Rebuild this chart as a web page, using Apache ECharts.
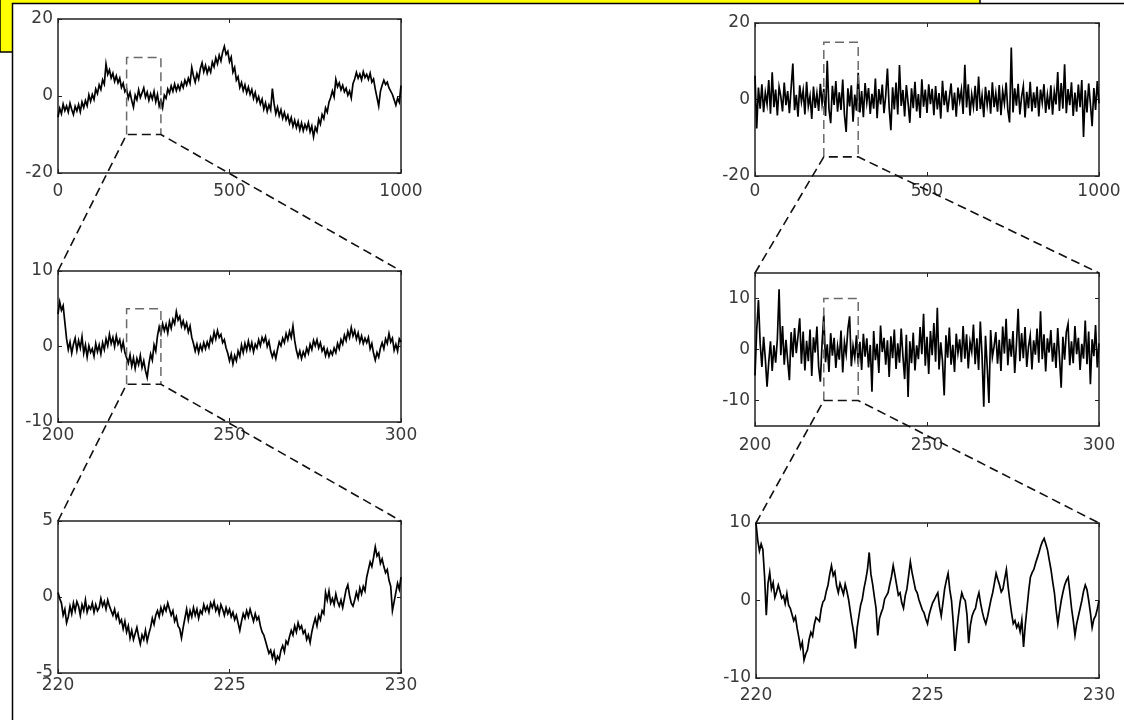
<!DOCTYPE html>
<html><head><meta charset="utf-8">
<script src="https://cdn.jsdelivr.net/npm/echarts@6/dist/echarts.min.js"></script>
<style>html,body{margin:0;padding:0;background:#fff}#c{width:1124px;height:720px}</style>
</head><body><div id="c"></div>
<script>
// ---- data ----
const topLeftValues = [
-5.5,-3.2,-4.6,-2.1,-3.8,-2.6,-4.2,-1.9,-3.5,-4.8,-2.7,-3.9,-2.2,-4.1,-1.6,-3.0,-1.2,-2.5,0.3,-1.4,
0.4,-0.9,1.8,0.6,2.9,1.7,4.2,3.1,8.3,5.6,6.8,4.7,5.9,3.8,5.2,3.4,4.6,2.2,3.3,1.1,
1.8,-0.6,0.9,-1.2,-2.9,0.2,-1.0,1.6,-0.4,0.8,2.1,-0.3,1.0,-1.1,0.6,-0.8,1.2,-1.5,0.4,-2.6,
-1.1,-3.0,0.2,-0.6,1.8,0.7,2.6,1.2,3.1,1.4,2.8,1.6,3.4,2.2,4.1,2.9,4.6,3.3,7.4,5.2,
3.6,5.8,4.4,7.1,8.6,6.3,7.9,5.9,7.4,6.2,8.8,7.6,9.9,8.4,10.6,9.1,11.4,12.9,10.8,11.6,
8.9,10.1,6.2,7.4,4.1,5.0,2.2,3.5,1.4,2.9,0.8,2.3,0.4,1.7,-0.6,0.9,-1.4,-0.2,-2.1,-0.8,
-3.4,-1.8,-4.0,-2.3,-3.6,1.9,-2.0,-4.6,-2.9,-5.1,-3.6,-5.8,-4.3,-6.2,-5.0,-7.1,-5.6,-7.9,-6.3,-8.2,
-6.6,-8.8,-7.0,-9.0,-7.4,-8.6,-6.9,-9.3,-7.8,-10.6,-8.1,-9.2,-6.0,-7.3,-4.8,-5.9,-3.1,-4.2,-1.6,-0.4,
1.3,-0.2,4.3,2.4,3.4,1.6,2.8,1.1,2.0,0.2,1.3,-0.5,3.2,4.4,6.1,4.6,5.7,4.2,6.3,4.8,
5.6,4.3,5.9,3.6,4.4,1.8,-0.4,-2.6,1.2,2.8,4.1,3.0,3.6,2.1,2.6,0.4,-1.0,-2.4,-0.6,-1.6,2.7
];
const topRightValues = [
6.2,-7.6,3.1,-2.4,4.0,-3.3,1.8,-1.2,5.1,-3.7,7.1,-2.0,2.6,-4.2,3.3,0.8,-3.1,4.4,-1.5,2.2,
-3.6,3.0,9.4,-2.8,1.2,-4.5,3.7,-0.6,2.4,-3.9,4.6,-1.8,0.9,-5.1,3.4,-2.2,1.6,-3.0,4.1,-1.1,
2.8,-4.3,10.1,-2.5,-6.2,3.6,-1.4,4.8,-3.2,1.9,-2.7,5.2,-4.0,-8.5,2.9,-1.8,3.7,-5.8,1.3,-2.9,
7.0,-3.4,2.2,-4.6,4.3,-0.8,3.0,-3.8,1.5,-2.4,5.5,-4.9,2.7,-1.3,3.9,-3.6,1.0,8.1,-2.2,-8.0,
3.2,-2.6,4.4,-3.9,9.0,-1.7,2.5,-4.4,3.8,-0.9,-6.1,2.9,-2.3,4.6,-3.1,1.4,-4.8,5.3,-1.9,2.6,
-3.5,4.0,-1.2,2.8,-4.1,3.5,-2.6,1.7,-5.0,4.9,-1.5,2.3,-3.3,0.6,4.2,-2.8,1.8,-4.5,3.1,-0.4,
2.6,-3.8,9.1,-2.1,4.0,-4.2,1.3,-1.9,3.6,-3.0,6.0,-2.5,1.1,-4.6,3.3,-1.4,2.4,-3.7,4.5,-2.0,
1.6,-3.2,3.8,-4.1,2.2,-1.0,4.4,-2.8,-6.0,13.6,-3.4,2.9,-1.6,4.1,-3.9,0.7,3.5,-4.7,2.0,-2.3,
4.6,-3.1,1.9,-2.2,3.4,-4.4,2.6,-0.8,4.0,-3.5,1.2,-2.6,3.7,-4.0,2.1,-1.3,7.2,-3.0,4.3,-2.4,
9.2,-3.6,2.7,-1.5,4.5,-4.3,1.8,-3.2,3.9,-2.0,5.1,-9.8,2.4,-3.4,4.2,-1.1,-7.0,3.0,-2.7,4.8,-1.0
];
const midLeftValues = [
4.3,5.9,4.8,5.4,3.2,1.0,-0.4,0.6,-0.9,0.3,1.1,-0.5,0.8,-0.2,1.3,-0.9,0.2,-1.4,0.1,-0.8,
-0.3,-1.3,0.4,-0.7,0.2,-1.0,0.5,-0.4,1.0,0.1,1.6,0.4,1.2,0.0,1.4,0.3,0.9,-0.4,0.6,-0.8,
-0.9,-2.2,-1.1,-2.6,-1.5,-2.9,-1.6,-2.4,-1.2,-2.8,-1.9,-3.2,-4.1,-2.3,-1.0,-1.8,0.2,-0.6,1.4,2.6,
1.7,3.0,2.1,2.9,1.8,3.3,2.4,3.6,3.0,4.6,3.5,4.0,2.7,3.4,2.4,3.1,1.9,2.7,1.2,0.4,
-0.6,0.3,-0.8,0.2,-0.5,0.5,-0.3,0.6,-0.1,1.2,0.6,1.9,1.0,2.1,1.2,1.6,0.5,0.9,-0.2,-0.9,
-1.9,-1.0,-2.3,-1.2,-1.9,-0.6,-1.3,0.2,-0.8,0.4,-0.5,0.7,-0.4,0.5,-0.7,0.3,-0.2,0.9,0.1,1.2,
0.6,1.3,0.0,0.7,-0.6,-1.4,-0.7,-1.6,-0.4,0.6,0.1,1.1,0.5,1.7,0.9,2.0,1.2,2.7,0.8,-0.5,
-1.4,-0.6,-1.6,-0.7,-1.3,-0.2,-0.9,0.3,-0.4,0.8,0.1,0.9,-0.2,0.5,-0.6,-0.1,-1.2,-0.4,-1.3,-0.6,
-1.1,-0.2,-0.8,0.4,-0.3,0.9,0.3,1.5,0.8,2.0,1.2,2.5,1.4,2.1,1.0,1.8,0.6,1.4,0.4,1.1,
0.5,1.2,-0.3,0.4,-0.9,-1.8,-0.8,-1.4,-0.2,0.5,-0.3,1.0,0.4,1.7,0.6,1.1,-0.5,0.3,-0.6,1.0,0.6
];
const midRightValues = [
-5.1,3.8,9.7,1.2,-3.4,2.5,-1.8,-7.3,-2.4,1.6,-4.2,0.8,-2.6,2.0,11.8,-1.1,4.6,-3.0,1.9,-2.2,
-6.0,3.4,-1.5,4.2,-0.7,2.6,6.1,-2.8,3.5,-4.1,1.7,-2.3,3.9,-5.2,2.4,-0.6,4.5,-3.4,-6.3,1.3,
6.7,-2.5,1.0,-4.4,3.2,-1.2,2.3,-3.6,0.6,-2.0,3.7,-4.5,1.4,-0.9,4.0,6.5,-3.3,0.7,-1.6,2.8,
-2.9,1.5,-4.0,3.1,-1.4,2.2,-3.5,0.9,-8.3,3.6,-2.1,1.1,-4.6,4.7,-0.5,2.3,-3.0,1.8,-5.4,2.6,
-1.7,3.9,-3.8,1.2,-2.6,4.1,-1.3,-5.8,2.9,-9.3,1.6,-2.7,3.3,-4.1,0.8,-1.9,4.4,-0.9,7.0,-3.2,
2.5,-4.8,3.6,-1.1,5.2,-2.4,8.2,-3.9,1.4,-2.2,-9.0,2.8,-1.6,4.3,-3.0,0.9,-4.4,3.1,-0.7,2.0,
-2.5,4.6,-1.8,3.0,-3.7,1.5,-0.4,4.9,-2.9,2.2,-4.0,5.5,-1.2,-11.2,2.7,-3.3,-10.5,3.8,-1.5,0.6,
3.4,-2.8,1.9,-4.2,4.5,-0.8,6.0,-3.1,2.1,-1.4,3.6,-4.6,1.0,8.0,-2.3,3.2,-1.7,4.4,-3.4,0.5,
2.7,-3.9,1.8,-1.0,4.1,-2.6,7.5,-1.9,3.0,-4.3,2.2,-0.6,3.8,-2.4,1.3,-3.6,4.2,-1.4,-7.5,2.5,
-2.0,3.4,5.0,-3.1,1.6,-2.7,4.6,-0.9,2.3,-4.0,1.1,-1.8,5.7,-2.9,3.5,-6.8,2.0,-1.3,4.8,-3.5,1.2
];
const lowLeftValues = [
0.3,-0.1,-0.4,-1.2,-0.8,-1.7,-1.3,-0.6,-1.1,-0.4,-0.9,-0.3,-0.6,-1.2,-0.5,-0.9,-0.2,-1.0,-0.6,-0.8,
-0.4,-1.0,-0.5,-0.9,-0.7,-0.1,-0.6,-0.3,-0.8,-0.2,-0.6,-0.9,-1.2,-0.8,-1.4,-1.1,-1.7,-1.5,-2.1,-1.6,
-2.3,-1.9,-2.7,-2.2,-2.8,-2.4,-2.0,-2.6,-3.1,-2.5,-2.8,-2.2,-2.9,-2.4,-2.0,-1.4,-1.8,-1.2,-0.9,-1.3,
-0.7,-1.1,-0.6,-0.9,-0.4,-0.8,-1.2,-0.9,-1.6,-1.3,-1.9,-2.1,-2.7,-2.0,-1.4,-0.8,-1.5,-0.9,-1.3,-0.7,
-1.2,-0.8,-1.4,-0.9,-1.1,-0.5,-0.9,-0.6,-1.0,-0.4,-0.7,-0.3,-0.9,-0.6,-1.1,-0.5,-0.8,-1.2,-0.7,-1.1,
-0.8,-1.3,-1.0,-1.5,-1.2,-1.7,-2.2,-1.6,-1.1,-1.4,-0.9,-1.3,-0.8,-1.2,-1.6,-1.1,-1.5,-1.3,-1.9,-2.3,
-2.5,-2.9,-3.3,-3.7,-3.5,-4.0,-3.6,-4.3,-3.9,-4.1,-3.5,-3.2,-3.6,-2.9,-3.1,-2.6,-2.2,-2.5,-1.9,-2.3,
-1.7,-2.1,-1.9,-2.4,-2.2,-2.8,-2.5,-3.0,-2.3,-1.8,-1.4,-1.9,-1.2,-1.5,-0.9,-1.1,0.3,-0.2,0.4,-0.4,
-0.1,-0.5,0.2,-0.3,-0.6,-0.2,-0.7,-0.1,0.5,0.8,0.1,-0.4,-0.6,-0.2,0.3,-0.1,0.6,0.2,0.7,0.4,
1.3,1.8,2.3,2.0,2.6,3.3,2.7,2.9,2.2,2.5,2.0,1.6,1.8,1.1,0.7,-0.9,-0.3,0.3,0.9,0.5,1.3
];
const lowRightValues = [
10.0,7.8,6.4,7.3,6.6,3.1,-1.9,2.2,3.6,1.5,2.3,0.4,1.1,2.0,1.2,0.3,0.6,-0.4,0.9,-0.6,
-1.0,-1.8,-2.6,-2.1,-3.6,-4.8,-6.1,-5.4,-7.7,-6.9,-6.4,-5.0,-4.1,-4.6,-3.1,-2.2,-2.0,-2.7,-1.1,-0.2,
0.1,1.2,2.0,3.4,4.5,3.2,3.7,1.9,1.0,2.2,1.5,0.8,2.1,1.2,0.1,-1.4,-2.9,-4.2,-6.2,-3.5,
-2.0,-0.6,0.2,1.6,2.7,4.0,6.2,3.4,2.1,0.5,-1.0,-4.5,-2.3,-1.6,-1.0,0.2,0.1,1.0,2.1,3.1,
4.5,3.3,2.0,0.7,1.0,-0.3,-1.0,0.6,1.5,3.2,5.0,3.6,2.5,1.4,1.0,0.1,-0.1,-1.2,-1.6,-2.4,
-3.0,-1.8,-1.0,-0.3,0.1,0.6,1.0,-0.8,-2.0,-0.3,1.5,2.6,3.5,1.4,0.0,-2.8,-6.5,-4.0,-2.0,-0.2,
1.0,0.3,0.0,-1.8,-5.5,-3.2,-2.0,-1.4,-1.0,0.2,1.0,-0.4,-1.5,-2.4,-3.0,-2.1,-1.0,0.1,1.0,2.2,
3.5,2.7,2.0,1.1,1.5,2.8,4.0,1.8,0.0,-1.6,-3.0,-2.6,-3.5,-3.0,-4.0,-2.5,-6.0,-3.2,-1.0,1.2,
3.0,3.6,4.0,4.8,5.5,6.2,7.0,7.6,8.0,7.3,6.5,5.2,4.0,2.4,1.0,-1.2,-3.0,-1.4,0.0,1.1,
2.0,2.6,3.0,1.1,-1.0,-2.6,-4.5,-3.0,-2.0,-1.0,0.0,1.2,2.0,1.4,0.0,-1.6,-3.5,-2.4,-2.0,-1.1,0.0
];
const panelValues = [topLeftValues, topRightValues, midLeftValues, midRightValues, lowLeftValues, lowRightValues];
const xStart = [0, 0, 200, 200, 220, 220];
const xStep = [5, 5, 0.5, 0.5, 0.05, 0.05];
const xRanges = [[0,1000],[0,1000],[200,300],[200,300],[220,230],[220,230]];
const yRanges = [[-20,20],[-20,20],[-10,10],[-15,15],[-5,5],[-10,10]];
const xTickLabels = [[0,500,1000],[0,500,1000],[200,250,300],[200,250,300],[220,225,230],[220,225,230]];
const yTickLabels = [[-20,0,20],[-20,0,20],[-10,0,10],[-10,0,10],[-5,0,5],[-10,0,10]];
const zoomBoxX = [[200,300],[200,300],[220,230],[220,230]];
const zoomBoxY = [[-10,10],[-15,15],[-5,5],[-10,10]];
const zoomSource = [0,1,2,3];
const zoomTarget = [2,3,4,5];

// ---- layout ----
const gridRects = [
  {left:58, top:19, width:343, height:154},
  {left:755, top:23, width:344, height:153},
  {left:58, top:271, width:343, height:151},
  {left:755, top:273, width:344, height:153},
  {left:58, top:521, width:343, height:152},
  {left:756, top:523, width:343, height:155}
];
const xLabelMargin = [10, 7, 5, 11, 4, 9];
const font = {fontFamily:'"DejaVu Sans", "Liberation Sans", Arial, sans-serif', fontSize:17, color:'#3a3a3a'};
const axisLineStyle = {color:'#222', width:1.5};
const plain = (v) => String(v);

const chart = echarts.init(document.getElementById('c'), null, {renderer:'canvas'});
const grid = [], xAxis = [], yAxis = [], series = [];
for (let i = 0; i < 6; i++) {
  grid.push(Object.assign({containLabel:false}, gridRects[i]));
  ['bottom','top'].forEach((pos, k) => {
    xAxis.push({
      type:'value', gridIndex:i, position:pos, min:xRanges[i][0], max:xRanges[i][1],
      axisLine:{show:true, onZero:false, lineStyle:axisLineStyle},
      axisTick:{show:true, inside:true, length:4, customValues:xTickLabels[i], lineStyle:{color:'#222'}},
      axisLabel:Object.assign({show:k===0, margin:xLabelMargin[i], customValues:xTickLabels[i], formatter:plain}, font),
      splitLine:{show:false}
    });
  });
  ['left','right'].forEach((pos, k) => {
    yAxis.push({
      type:'value', gridIndex:i, position:pos, min:yRanges[i][0], max:yRanges[i][1],
      axisLine:{show:true, onZero:false, lineStyle:axisLineStyle},
      axisTick:{show:true, inside:true, length:4, customValues:yTickLabels[i], lineStyle:{color:'#222'}},
      axisLabel:Object.assign({show:k===0, margin:5, customValues:yTickLabels[i], formatter:plain}, font),
      splitLine:{show:false}
    });
  });
  const vals = panelValues[i];
  series.push({
    type:'line', xAxisIndex:2*i, yAxisIndex:2*i, showSymbol:false, symbol:'none',
    sampling:null, animation:false, silent:true, z:2,
    lineStyle:{color:'#000', width:1.7, join:'miter'},
    data: vals.map((v, j) => [+(xStart[i] + j * xStep[i]).toFixed(3), v])
  });
}

const frameGraphics = [
  {type:'rect', z:-20, silent:true, shape:{x:0, y:-10, width:980, height:62},
   style:{fill:'#ffff00', stroke:'#000', lineWidth:1.5}},
  {type:'rect', z:-19, silent:true, shape:{x:12.5, y:3.5, width:1200, height:800},
   style:{fill:'#fff', stroke:'#000', lineWidth:1.5}}
];

chart.setOption({
  animation:false, backgroundColor:'#fff',
  grid, xAxis, yAxis, series, graphic:frameGraphics
});

// zoom boxes and connectors, positioned through the chart's own scales
const extra = [];
for (let b = 0; b < zoomSource.length; b++) {
  const s = zoomSource[b], t = zoomTarget[b];
  const px = (v) => chart.convertToPixel({seriesIndex:s}, v);
  const p00 = px([zoomBoxX[b][0], zoomBoxY[b][0]]);
  const p01 = px([zoomBoxX[b][0], zoomBoxY[b][1]]);
  const p11 = px([zoomBoxX[b][1], zoomBoxY[b][1]]);
  const p10 = px([zoomBoxX[b][1], zoomBoxY[b][0]]);
  const tl = chart.convertToPixel({seriesIndex:t}, [xRanges[t][0], yRanges[t][1]]);
  const tr = chart.convertToPixel({seriesIndex:t}, [xRanges[t][1], yRanges[t][1]]);
  extra.push({type:'polyline', z:50, silent:true, shape:{points:[p00,p01,p11,p10]},
    style:{fill:null, stroke:'#6a6a6a', lineWidth:1.5, lineDash:[9,5]}});
  extra.push({type:'polyline', z:51, silent:true, shape:{points:[tl,p00,p10,tr]},
    style:{fill:null, stroke:'#111', lineWidth:1.6, lineDash:[9,5]}});
}
chart.setOption({graphic: frameGraphics.concat(extra)});
</script>
</body></html>
